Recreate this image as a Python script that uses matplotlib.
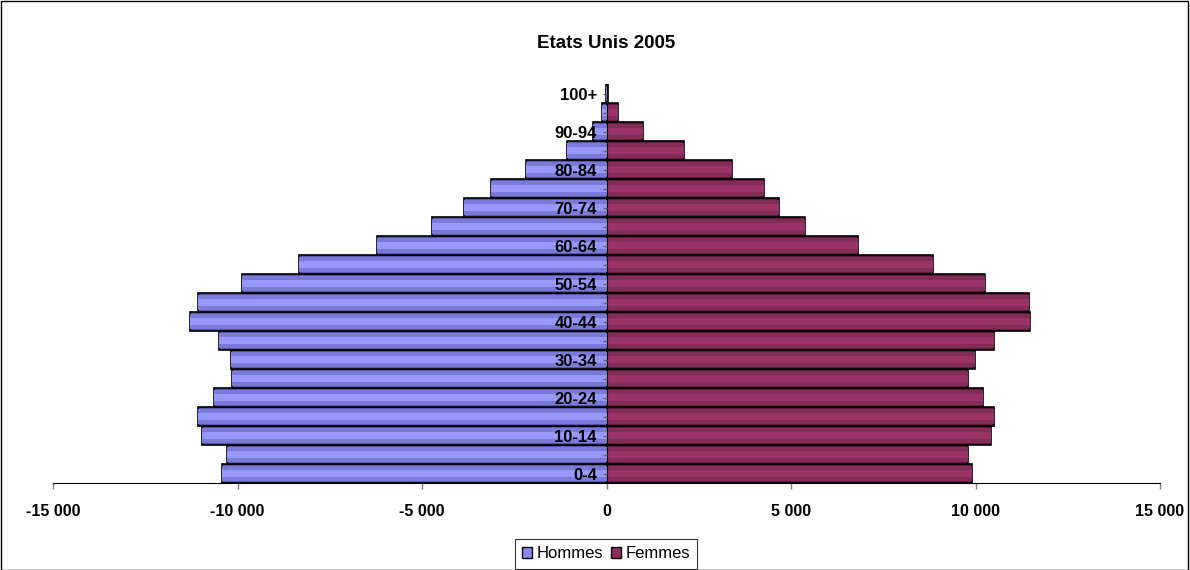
#! /usr/bin/python3

import matplotlib.pyplot as plt
from matplotlib.patches import Rectangle
import numpy as np

plt.rcParams['font.family'] = ['Liberation Sans', 'DejaVu Sans']

# age groups, bottom to top
ages = ["0-4", "5-9", "10-14", "15-19", "20-24", "25-29", "30-34", "35-39",
        "40-44", "45-49", "50-54", "55-59", "60-64", "65-69", "70-74",
        "75-79", "80-84", "85-89", "90-94", "95-99", "100+"]

# population (thousands)
hommes = [10430, 10280, 10950, 11060, 10650, 10145, 10180, 10510,
          11300, 11080, 9890, 8330, 6230, 4740, 3850,
          3140, 2170, 1080, 360, 110, 15]
femmes = [9910, 9800, 10415, 10490, 10200, 9800, 9980, 10490,
          11470, 11440, 10270, 8850, 6820, 5390, 4670,
          4270, 3400, 2090, 990, 300, 50]

ageLabels = [a if i % 2 == 0 else "" for i, a in enumerate(ages)]
xTicks = [-15000, -10000, -5000, 0, 5000, 10000, 15000]
xLabels = ["-15 000", "-10 000", "-5 000", "0", "5 000", "10 000", "15 000"]

y = np.arange(len(ages))
h = -np.array(hommes)
f = np.array(femmes)

fig = plt.figure(figsize=(11.9, 5.7), dpi=100)
ax = fig.add_axes([53/1190, 1-483/570, 1107/1190, 399/570])

# category axis sits at x=0 (do this first, it resets the ticks)
ax.spines["left"].set_position(("data", 0))
ax.spines["left"].set_zorder(6)
ax.spines["right"].set_visible(False)
ax.spines["top"].set_visible(False)
ax.spines["bottom"].set_color("black")

# shaded bars: dark base, medium band, light core
ax.barh(y, h, height=1.0, color="#5858a8", edgecolor="black", linewidth=1.2, zorder=2)
ax.barh(y, h, height=0.75, color="#7a7ad8", linewidth=0, zorder=3)
ax.barh(y, h, height=0.4, color="#9898fa", linewidth=0, zorder=4)
ax.barh(y, f, height=1.0, color="#621a40", edgecolor="black", linewidth=1.2, zorder=2)
ax.barh(y, f, height=0.75, color="#842c58", linewidth=0, zorder=3)
ax.barh(y, f, height=0.4, color="#9a3468", linewidth=0, zorder=4)

# legend handles
ax.barh([0], [0], color="#8888ee", edgecolor="black", label="Hommes")
ax.barh([0], [0], color="#8a2e5c", edgecolor="black", label="Femmes")

ax.set_xlim(-15000, 15000)
ax.set_ylim(-0.5, len(ages) - 0.5)

ax.set_xticks(xTicks)
ax.set_xticklabels(xLabels, fontweight="bold", fontsize=11.5)
ax.tick_params(axis="x", direction="out", length=4, width=1, color="#808080", pad=11)

ax.set_yticks(y)
ax.set_yticklabels(ageLabels, fontweight="bold", fontsize=12)
ax.tick_params(axis="y", direction="out", length=3, width=1, color="#606060", pad=4)
ax.yaxis.set_zorder(10)

fig.text(0.5097, 1 - 43/570, "Etats Unis 2005", ha="center", va="center",
         fontweight="bold", fontsize=13.5)

leg = ax.legend(loc="center", bbox_to_anchor=(606/1190, 1 - 554/570), ncol=2,
                bbox_transform=fig.transFigure,
                frameon=True, fancybox=False, edgecolor="black", fontsize=12,
                handlelength=0.6, handleheight=0.6, handletextpad=0.25,
                columnspacing=0.5, borderpad=0.45, borderaxespad=0)
leg.get_frame().set_linewidth(0.8)

fig.patches.append(Rectangle((0.001, 0.0), 0.997, 0.998, transform=fig.transFigure,
                             fill=False, edgecolor="black", linewidth=1))

plt.savefig("out.png", dpi=100)
